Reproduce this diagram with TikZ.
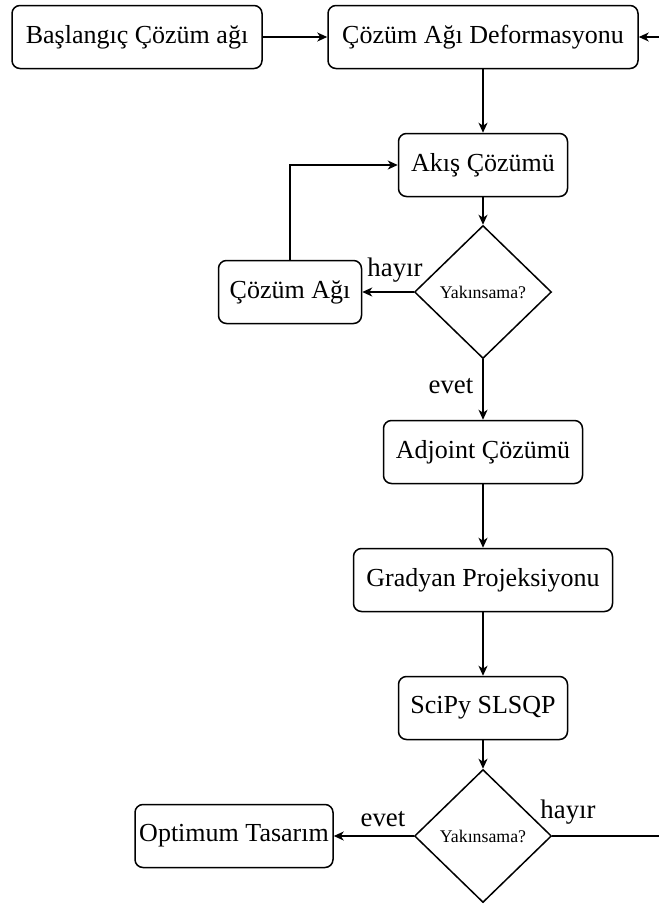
\documentclass[tikz,border=0pt]{standalone}
\usepackage{fontspec}
\setmainfont{Liberation Serif}
\usetikzlibrary{shapes.geometric,arrows.meta}
\begin{document}
\begin{tikzpicture}[x=0.5pt,y=-0.5pt,
  box/.style={draw, line width=0.75pt, rounded corners=4pt, minimum height=31.5pt, inner sep=0pt, align=center, font=\fontsize{13}{15}\selectfont},
  dec/.style={draw, line width=0.75pt, diamond, minimum width=68.5pt, minimum height=66.5pt, inner sep=0pt, font=\fontsize{8.9}{10}\selectfont},
  conn/.style={line width=0.75pt, -{Stealth[length=5pt,width=4.5pt,inset=1.5pt]}},
  lbl/.style={font=\fontsize{13.4}{15}\selectfont, inner sep=0pt}]
\useasboundingbox (0,0) rectangle (659,906);
\clip (0,0) rectangle (659,906);
\node[box, minimum width=125pt] (start) at (137,37) {Başlangıç Çözüm ağı};
\node[box, minimum width=155pt] (def) at (483,37) {Çözüm Ağı Deformasyonu};
\node[box, minimum width=84.5pt] (flow) at (483,165) {Akış Çözümü};
\node[dec] (d1) at (483,292) {Yakınsama?};
\node[box, minimum width=71.5pt] (mesh) at (290,292) {Çözüm Ağı};
\node[box, minimum width=99.5pt] (adj) at (483,452) {Adjoint Çözümü};
\node[box, minimum width=129.5pt] (grad) at (483,580) {Gradyan Projeksiyonu};
\node[box, minimum width=84.5pt] (slsqp) at (483,708) {SciPy SLSQP};
\node[dec] (d2) at (483,836) {Yakınsama?};
\node[box, minimum width=99pt] (opt) at (234,836) {Optimum Tasarım};
\coordinate (farlow) at (720,836);
\coordinate (farhigh) at (720,37);
\node[lbl] (l1) at (395,270) {hayır};
\node[lbl] (l2) at (451,386) {evet};
\node[lbl] (l3) at (383,819) {evet};
\node[lbl] (l4) at (568,812) {hayır};
\draw[conn] (start) -- (def);
\draw[conn] (def) -- (flow);
\draw[conn] (flow) -- (d1);
\draw[conn] (d1) -- (mesh);
\draw[conn] (mesh.north) |- (flow.west);
\draw[conn] (d1) -- (adj);
\draw[conn] (adj) -- (grad);
\draw[conn] (grad) -- (slsqp);
\draw[conn] (slsqp) -- (d2);
\draw[conn] (d2) -- (opt);
\draw[conn] (d2.east) -- (farlow) -- (farhigh) -- (def.east);
\end{tikzpicture}
\end{document}
